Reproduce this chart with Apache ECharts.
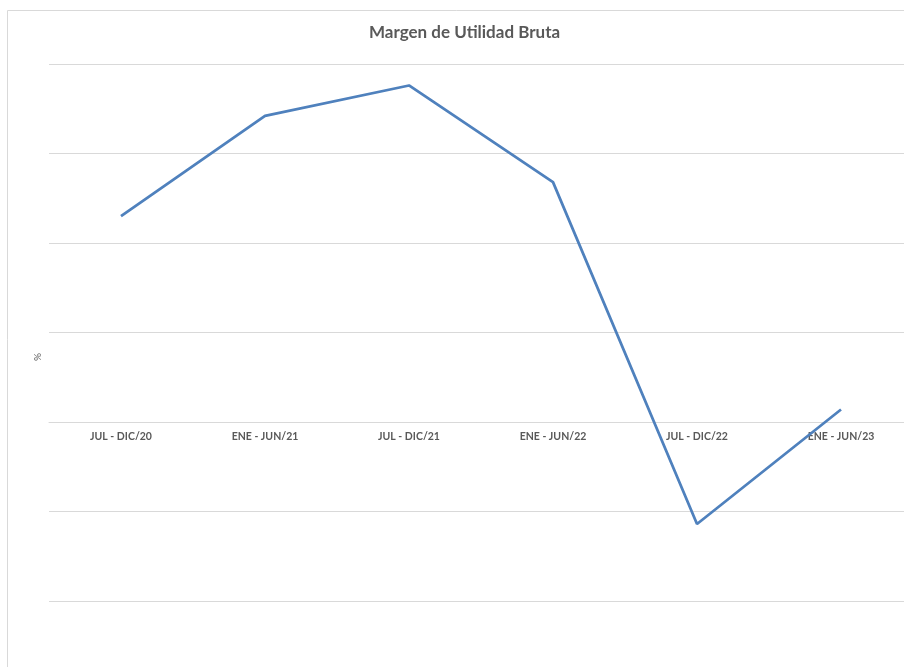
<!DOCTYPE html>
<html>
<head>
<meta charset="utf-8">
<script src="https://cdn.jsdelivr.net/npm/echarts@6/dist/echarts.min.js"></script>
<style>
  html, body { margin: 0; padding: 0; background: #fff; }
  #chart { width: 904px; height: 667px; }
</style>
</head>
<body>
<div id="chart"></div>
<script>
// periodos semestrales
const periodos = ["JUL - DIC/20", "ENE - JUN/21", "JUL - DIC/21", "ENE - JUN/22", "JUL - DIC/22", "ENE - JUN/23"];
// margen bruto (%)
const margen = [11.5, 17.1, 18.8, 13.4, -5.7, 0.7];

const chart = echarts.init(document.getElementById("chart"));

chart.setOption({
  animation: false,
  title: {
    text: "Margen de Utilidad Bruta",
    left: 364,
    top: 19,
    textStyle: {
      fontFamily: "Lato",
      fontSize: 17,
      fontWeight: "bold",
      color: "#595959",
    },
  },
  graphic: [
    // marco del area del grafico
    {
      type: "rect",
      shape: { x: 7.5, y: 10.5, width: 940, height: 700 },
      style: { fill: "none", stroke: "#d9d9d9", lineWidth: 1 },
      silent: true,
    },
    // titulo del eje vertical
    {
      type: "text",
      x: 38,
      y: 357,
      rotation: Math.PI / 2,
      style: {
        text: "%",
        fontFamily: "Lato",
        fontSize: 10,
        fill: "#595959",
        align: "center",
        verticalAlign: "middle",
      },
      silent: true,
    },
  ],
  grid: {
    left: 49,
    top: 64,
    width: 864,
    height: 537,
    containLabel: false,
    outerBoundsMode: "none",
  },
  xAxis: {
    type: "category",
    data: periodos,
    boundaryGap: true,
    // el eje cruza en cero (linea de 422 px)
    offset: -179,
    axisLine: { show: true, onZero: false, lineStyle: { color: "#d9d9d9", width: 1 } },
    axisTick: { show: false },
    axisLabel: {
      interval: 0,
      margin: 9,
      fontFamily: "Lato",
      fontSize: 10.5,
      fontWeight: "bold",
      color: "#595959",
    },
  },
  yAxis: {
    type: "value",
    min: -10,
    max: 20,
    interval: 5,
    axisLine: { show: false },
    axisTick: { show: false },
    axisLabel: { show: false },
    splitLine: { lineStyle: { color: "#d9d9d9", width: 1 } },
  },
  series: [
    {
      type: "line",
      data: margen,
      symbol: "none",
      lineStyle: { color: "#4f81bd", width: 2.75 },
    },
  ],
});
</script>
</body>
</html>
